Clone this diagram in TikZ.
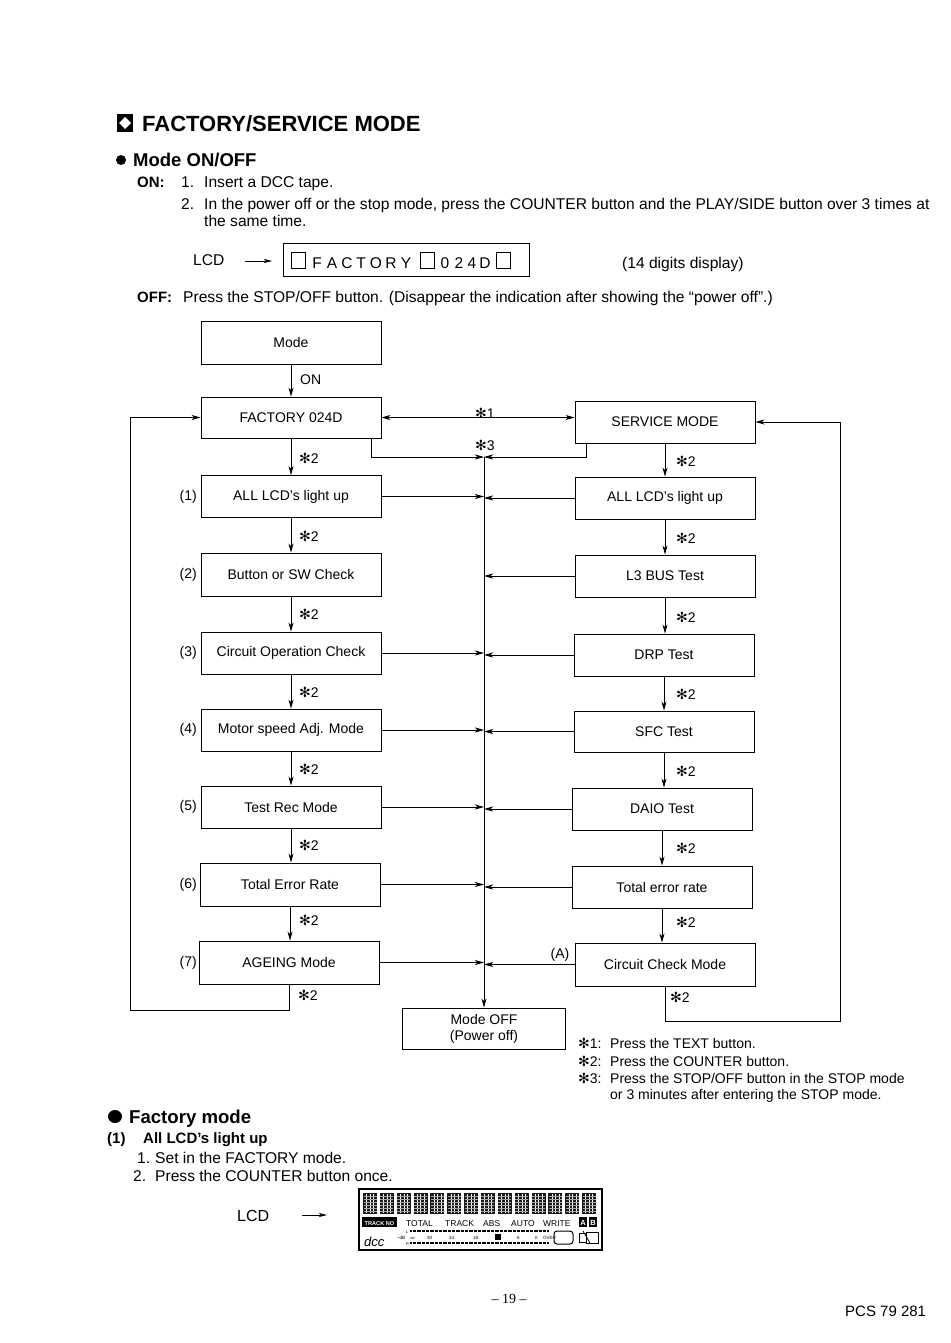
\documentclass[tikz,border=0pt]{standalone}
\usepackage{fontspec}
\setmainfont{Liberation Sans}
\newfontfamily\djv{DejaVu Sans}
\newfontfamily\serifnum{Liberation Serif}
\usetikzlibrary{arrows.meta}
\newcommand\stx{{\djv\char"273B}}
\begin{document}
\begin{tikzpicture}[x=1pt,y=-1pt,
 box/.style={draw, line width=0.9pt, minimum width=180pt, minimum height=42pt, inner sep=0pt, font=\fontsize{14}{16}\selectfont},
 arr/.style={line width=0.8pt, -{Stealth[length=9pt,width=5pt,inset=2.5pt]}},
 arrr/.style={line width=0.8pt, {Stealth[length=9pt,width=5pt,inset=2.5pt]}-{Stealth[length=9pt,width=5pt,inset=2.5pt]}},
 ln/.style={line width=0.8pt},
 lbl/.style={anchor=west, inner sep=0pt, font=\fontsize{14}{16}\selectfont},
 rowl/.style={anchor=east, inner sep=0pt, font=\fontsize{14}{16}\selectfont},
 tx/.style={anchor=base west, inner sep=0pt, font=\fontsize{15.6}{18}\selectfont},
 txb/.style={anchor=base west, inner sep=0pt, font=\fontsize{15}{18}\selectfont\bfseries},
 fn/.style={anchor=base west, inner sep=0pt, font=\fontsize{14}{17}\selectfont},
 bt/.style={anchor=base west, inner sep=0pt, font=\fontsize{15.6}{18}\selectfont},
 tiny/.style={anchor=base west, inner sep=0pt, font=\fontsize{8.5}{9}\selectfont},
]
\useasboundingbox (0,0) rectangle (950,1343);
\fill[white] (0,0) rectangle (950,1343);

% ---------- header ----------
\fill[black] (117,114) rectangle (133,132);
\fill[white] (125,117) -- (131,123) -- (125,129) -- (119,123) -- cycle;
\node[anchor=base west, inner sep=0, font=\fontsize{22}{24}\selectfont\bfseries] (title) at (142,132) {FACTORY/SERVICE MODE};
\fill (121,160) circle (5);
\node[anchor=base west, inner sep=0, font=\fontsize{18.5}{20}\selectfont\bfseries] (mo) at (133,167) {Mode ON/OFF};
\node[txb] (on) at (137,188) {ON:};
\node[tx] (o1n) at (181,188) {1.};
\node[tx] (o1) at (204,188) {Insert a DCC tape.};
\node[tx] (o2n) at (181,210) {2.};
\node[tx] (o2) at (204,210) {In the power off or the stop mode, press the COUNTER button and the PLAY/SIDE button over 3 times at};
\node[tx] (o2b) at (204,226) {the same time.};

\node[tx] (lcd1) at (193,265) {LCD};
\coordinate (la1) at (245,261);
\coordinate (la2) at (272,261);
\draw[line width=0.8pt, -{Stealth[length=8pt,width=4pt,inset=2pt]}] (la1) -- (la2);
\draw[line width=0.9pt] (283,243) rectangle (529,276);
\foreach \c/\x in {F/317,A/332,C/347,T/361,O/376,R/391,Y/406,0/445,2/459,4/472,D/485}
  \node[anchor=base, inner sep=0, font=\fontsize{15.5}{16}\selectfont] at (\x,268) {\c};
\foreach \x in {298,427,503}
  \draw[line width=0.8pt] (\x-7,252) rectangle (\x+7,268);
\node[tx] (dig) at (622,268) {(14 digits display)};

\node[txb] (off) at (137,302) {OFF:};
\node[tx] (offt) at (183,302) {Press the STOP/OFF button. (Disappear the indication after showing the “power off”.)};

% ---------- flowchart ----------
\node[box, minimum height=43pt] (mode) at (291,342.5) {Mode};
\node[box, minimum height=41pt] (fac) at (291,417.5) {FACTORY 024D};
\node[box] (l1) at (291,496.5) {ALL LCD's light up};
\node[box, minimum height=43pt] (l2) at (291,574.5) {Button or SW Check};
\node[box] (l3) at (291,653) {Circuit Operation Check};
\node[box] (l4) at (291,730) {Motor speed Adj. Mode};
\node[box] (l5) at (291,807) {Test Rec Mode};
\node[box, minimum height=43pt] (l6) at (290,884.5) {Total Error Rate};
\node[box, minimum height=43pt] (l7) at (289,962.5) {AGEING Mode};

\node[box] (svc) at (665,422) {SERVICE MODE};
\node[box] (r1) at (665,498) {ALL LCD's light up};
\node[box] (r2) at (665,576) {L3 BUS Test};
\node[box] (r3) at (664,655) {DRP Test};
\node[box, minimum height=41pt] (r4) at (664,731.5) {SFC Test};
\node[box] (r5) at (662,809) {DAIO Test};
\node[box] (r6) at (662,887) {Total error rate};
\node[box, minimum height=43pt] (r7) at (665,964.5) {Circuit Check Mode};

\node[box, minimum width=163pt, minimum height=41pt, align=center] (moff) at (484,1028.5) {Mode OFF\\(Power off)};

\foreach \n/\y in {1/496.5,2/574.5,3/653,4/730,5/807,6/884.5,7/962.5}
  \node[rowl] at (197,\y) {(\n)};

% left column arrows
\draw[arr] (mode.south) -- (mode.south |- fac.north);
\node[lbl] (onl) at (300,380) {ON};
\draw[arr] (fac.south) -- (fac.south |- l1.north);
\draw[arr] (l1.south) -- (l1.south |- l2.north);
\draw[arr] (l2.south) -- (l2.south |- l3.north);
\draw[arr] (l3.south) -- (l3.south |- l4.north);
\draw[arr] (l4.south) -- (l4.south |- l5.north);
\draw[arr] (l5.south) -- (l5.south |- l6.north);
\draw[arr] (l6.south) -- (l6.south |- l7.north);
\foreach \y in {458,536,614,692,769,845,920}
  \node[lbl] at (299,\y) {\stx2};

% right column arrows
\draw[arr] (svc.south) -- (svc.south |- r1.north);
\draw[arr] (r1.south) -- (r1.south |- r2.north);
\draw[arr] (r2.south) -- (r2.south |- r3.north);
\draw[arr] (r3.south) -- (r3.south |- r4.north);
\draw[arr] (r4.south) -- (r4.south |- r5.north);
\draw[arr] (r5.south) -- (r5.south |- r6.north);
\draw[arr] (r6.south) -- (r6.south |- r7.north);
\foreach \y in {461,538,617,694,771,848,922}
  \node[lbl] at (676,\y) {\stx2};

% *1
\draw[arrr] (fac.east) -- (fac.east -| svc.west);
\node[font=\fontsize{14}{16}\selectfont, inner sep=0] (s1) at (485,413) {\stx1};

% centre line
\coordinate (cx) at (484,457);
\node[font=\fontsize{14}{16}\selectfont, inner sep=0] (s3) at (485,445) {\stx3};
\draw[arr] ([xshift=-10pt]fac.south east) |- (cx);
\draw[arr] ([xshift=12pt]svc.south west) |- (cx);
\draw[arr] (cx) -- (moff.north);

\foreach \b in {l1,l3,l4,l5,l6,l7}
  \draw[arr] (\b.east) -- (\b.east -| cx);
\foreach \b in {r1,r2,r3,r4,r5,r6,r7}
  \draw[arr] (\b.west) -- (\b.west -| cx);
\node[font=\fontsize{14}{16}\selectfont, inner sep=0] (A) at (560,955) {(A)};

% loops
\coordinate (lb) at (130,1010);
\draw[arr] (l7.south) |- (lb) |- (fac.west);
\node[lbl] at (298,995) {\stx2};
\coordinate (rb) at (840,1021);
\draw[arr] (r7.south) |- (rb) |- (svc.east);
\node[lbl] at (670,997) {\stx2};

% footnotes
\node[fn] (f1) at (578,1048) {\stx1:};
\node[fn] at (610,1048) {Press the TEXT button.};
\node[fn] (f2) at (578,1066) {\stx2:};
\node[fn] at (610,1066) {Press the COUNTER button.};
\node[fn] (f3) at (578,1083) {\stx3:};
\node[fn] at (610,1083) {Press the STOP/OFF button in the STOP mode};
\node[fn] at (610,1099) {or 3 minutes after entering the STOP mode.};

% ---------- factory mode ----------
\fill (115,1116.5) ellipse (7 and 6.5);
\node[anchor=base west, inner sep=0, font=\fontsize{18.6}{20}\selectfont\bfseries] (fm) at (129,1123) {Factory mode};
\node[anchor=base west, inner sep=0, font=\fontsize{15}{18}\selectfont\bfseries] at (107,1143) {(1)};
\node[anchor=base west, inner sep=0, font=\fontsize{15}{18}\selectfont\bfseries] at (143,1143) {All LCD's light up};
\node[bt] at (137,1163) {1.};
\node[bt] at (155,1163) {Set in the FACTORY mode.};
\node[bt] at (133,1181) {2.};
\node[bt] at (155,1181) {Press the COUNTER button once.};
\node[anchor=base west, inner sep=0, font=\fontsize{16}{18}\selectfont] (lcd2) at (237,1221) {LCD};
\coordinate (lb1) at (302,1215);
\coordinate (lb2) at (327,1215);
\draw[line width=0.8pt, -{Stealth[length=8pt,width=4pt,inset=2pt]}] (lb1) -- (lb2);

% LCD graphic
\draw[line width=1.1pt] (359,1189) rectangle (602,1250);
\foreach \i in {0,...,13} {
  \pgfmathsetmacro\xx{363+\i*16.85}
  \fill[black!90] (\xx,1193) rectangle ++(14,21);
  \foreach \k in {1,2,3} \draw[white,line width=0.3pt] (\xx+\k*3.5,1194) -- ++(0,19);
  \foreach \k in {1,...,6} \draw[gray!70,line width=0.2pt] (\xx+0.5,1193+\k*3) -- ++(13,0);
}
\fill[black] (362,1217) rectangle (397,1227);
\node[anchor=base, inner sep=0, text=white, font=\fontsize{5.6}{6}\selectfont\bfseries] at (379.5,1225) {TRACK NO};
\node[tiny] at (406,1226) {TOTAL};
\node[tiny] at (445,1226) {TRACK};
\node[tiny] at (483,1226) {ABS};
\node[tiny] at (511,1226) {AUTO};
\node[tiny] at (543,1226) {WRITE};
\fill[black] (579,1217) rectangle (587,1227);
\fill[black] (589,1217) rectangle (597,1227);
\node[anchor=base, inner sep=0, text=white, font=\fontsize{7.5}{8}\selectfont\bfseries] at (583,1225.5) {A};
\node[anchor=base, inner sep=0, text=white, font=\fontsize{7.5}{8}\selectfont\bfseries] at (593,1225.5) {B};
\node[anchor=base west, inner sep=0, font=\fontsize{13}{14}\selectfont\itshape] at (364,1246) {dcc};
\node[anchor=base west, inner sep=0, font=\fontsize{4}{5}\selectfont] at (406,1233) {L};
\node[anchor=base west, inner sep=0, font=\fontsize{4}{5}\selectfont] at (406,1245) {R};
\draw[line width=2pt, dash pattern=on 0.6pt off 0.7pt] (410,1231) -- (548,1231);
\draw[line width=2pt, dash pattern=on 0.6pt off 0.7pt] (410,1243) -- (548,1243);
\foreach \s/\x in {{–dB}/397,{$\infty$}/409,30/427,24/449,18/473,6/517,0/535,OVER/543}
  \node[anchor=base west, inner sep=0, font=\fontsize{4.5}{5}\selectfont] at (\x,1239) {\s};
\fill[black] (495,1234) rectangle (501,1239.5);
\draw[line width=1pt, rounded corners=3pt] (554,1231) rectangle (573,1244);
\draw[line width=0.9pt] (586,1232) rectangle (598,1243);
\draw[line width=0.9pt] (586,1233) -- (579,1233) -- (579,1242) -- (586,1242);
\draw[line width=0.8pt] (583,1231) -- (590,1243);

% ---------- footer ----------
\node[anchor=base, inner sep=0, font=\serifnum\fontsize{14}{16}\selectfont] (pg) at (509,1303) {– 19 –};
\node[anchor=base west, inner sep=0, font=\fontsize{15}{17}\selectfont] (pcs) at (845,1316) {PCS 79 281};
\end{tikzpicture}
\end{document}
